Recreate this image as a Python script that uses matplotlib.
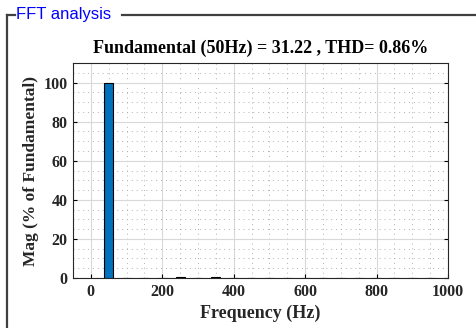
import numpy as np
import matplotlib.pyplot as plt
from matplotlib.ticker import MultipleLocator
from matplotlib.lines import Line2D

# harmonic spectrum (% of fundamental)
freqs = [50, 100, 150, 200, 250, 300, 350, 400, 450, 500, 550, 600,
         650, 700, 750, 800, 850, 900, 950]
mags = [100, 0.05, 0.08, 0.05, 0.3, 0.05, 0.7, 0.05, 0.05, 0.05, 0.15, 0.05,
        0.15, 0.05, 0.05, 0.05, 0.12, 0.05, 0.05]
title = "Fundamental (50Hz) = 31.22 , THD= 0.86%"

fig = plt.figure(figsize=(4.76, 3.28), dpi=100)
fig.patch.set_facecolor("white")

# panel frame
ytop = 1 - 15 / 328
fig.add_artist(Line2D([7 / 476, 7 / 476], [0, ytop], color="#404040", lw=1.6))
fig.add_artist(Line2D([7 / 476, 15 / 476], [ytop, ytop], color="#404040", lw=1.6))
fig.add_artist(Line2D([122 / 476, 1], [ytop, ytop], color="#404040", lw=1.6))
fig.text(16 / 476, ytop, "FFT analysis", color="#0000ff", fontsize=12,
         family="Liberation Sans", va="center", ha="left")

ax = fig.add_axes([73 / 476, 50 / 328, 375 / 476, 215 / 328])
ax.bar(freqs, mags, width=25, color="#0072BD", edgecolor="black", linewidth=0.8, zorder=3)

ax.set_xlim(-50, 1000)
ax.set_ylim(0, 110)
ax.set_xticks([0, 200, 400, 600, 800, 1000])
ax.set_yticks([0, 20, 40, 60, 80, 100])
ax.xaxis.set_minor_locator(MultipleLocator(50))
ax.yaxis.set_minor_locator(MultipleLocator(5))
ax.grid(which="major", color="#d9d9d9", lw=0.8, zorder=0)
ax.grid(which="minor", color="#b0b0b0", lw=0.7, ls=(0, (1, 4)), zorder=0)
ax.tick_params(which="minor", length=0)
ax.tick_params(which="major", direction="in", length=3, width=0.8)
ax.tick_params(top=False, right=True, labelsize=11.5, pad=4)
for s in ax.spines.values():
    s.set_color("#262626")
    s.set_linewidth(0.8)

font = {"family": "Liberation Serif", "weight": "bold"}
for lab in ax.get_xticklabels() + ax.get_yticklabels():
    lab.set_fontfamily("Liberation Serif")
    lab.set_fontweight("bold")
    lab.set_color("#262626")
ax.set_title(title, fontsize=13, color="black", pad=7, **font)
ax.set_xlabel("Frequency (Hz)", fontsize=13, color="#262626", labelpad=4, **font)
ax.set_ylabel("Mag (% of Fundamental)", fontsize=12.5, color="#262626", labelpad=3, **font)

fig.savefig("out.png", dpi=100)
